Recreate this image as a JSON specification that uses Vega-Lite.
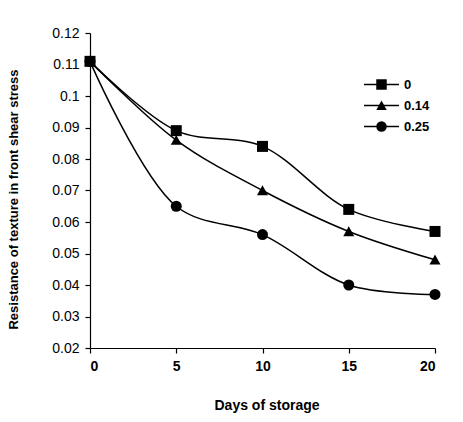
{
  "$schema": "https://vega.github.io/schema/vega-lite/v6.json",
  "autosize": {"type": "none"},
  "padding": {"left": 90, "top": 33, "right": 28, "bottom": 74},
  "width": 345,
  "height": 315,
  "background": "white",
  "config": {
    "view": {"stroke": null},
    "font": "Liberation Sans",
    "axis": {"grid": false, "domainColor": "black", "tickColor": "black", "labelColor": "black", "titleColor": "black", "tickSize": 5, "domainWidth": 1.2, "tickWidth": 1.2}
  },
  "data": {
    "values": [
      {"day": 0, "series": "0", "value": 0.111},
      {"day": 5, "series": "0", "value": 0.089},
      {"day": 10, "series": "0", "value": 0.084},
      {"day": 15, "series": "0", "value": 0.064},
      {"day": 20, "series": "0", "value": 0.057},
      {"day": 0, "series": "0.14", "value": 0.111},
      {"day": 5, "series": "0.14", "value": 0.086},
      {"day": 10, "series": "0.14", "value": 0.070},
      {"day": 15, "series": "0.14", "value": 0.057},
      {"day": 20, "series": "0.14", "value": 0.048},
      {"day": 0, "series": "0.25", "value": 0.111},
      {"day": 5, "series": "0.25", "value": 0.065},
      {"day": 10, "series": "0.25", "value": 0.056},
      {"day": 15, "series": "0.25", "value": 0.040},
      {"day": 20, "series": "0.25", "value": 0.037}
    ]
  },
  "encoding": {
    "x": {
      "field": "day", "type": "quantitative",
      "scale": {"domain": [0, 20], "nice": false, "zero": false},
      "axis": {
        "values": [0, 5, 10, 15, 20],
        "labelFontSize": 14, "labelFontWeight": "bold", "labelPadding": 6,
        "title": "Days of storage", "titleFontSize": 14, "titleFontWeight": "bold",
        "titleX": 176.5, "titleY": 57, "titleBaseline": "middle", "titlePadding": 0
      }
    },
    "y": {
      "field": "value", "type": "quantitative",
      "scale": {"domain": [0.02, 0.12], "nice": false, "zero": false},
      "axis": {
        "values": [0.02, 0.03, 0.04, 0.05, 0.06, 0.07, 0.08, 0.09, 0.1, 0.11, 0.12],
        "format": "~g",
        "labelFontSize": 14, "labelFontWeight": "normal", "labelPadding": 6,
        "title": "Resistance of texture in front shear stress",
        "titleFontSize": 13, "titleFontWeight": "bold",
        "titleX": -77, "titleY": 166, "titleAngle": -90, "titleAlign": "center", "titleBaseline": "middle"
      }
    }
  },
  "layer": [
    {
      "mark": {"type": "line", "interpolate": "catmull-rom", "strokeWidth": 1.5},
      "encoding": {
        "color": {
          "field": "series", "type": "nominal",
          "scale": {"domain": ["0", "0.14", "0.25"], "range": ["black", "black", "black"]},
          "legend": {
            "title": null, "orient": "none", "legendX": 273, "legendY": 41,
            "symbolType": "stroke", "symbolSize": 1225, "symbolStrokeWidth": 1.5, "symbolStrokeColor": "black",
            "labelFontSize": 13, "labelFontWeight": "bold", "labelColor": "black", "labelOffset": 4,
            "clipHeight": 21, "rowPadding": 0, "padding": 0
          }
        }
      }
    },
    {
      "mark": {"type": "point", "filled": true, "size": 121, "color": "black", "opacity": 1},
      "encoding": {
        "shape": {
          "field": "series", "type": "nominal",
          "scale": {"range": ["square", "M0,-0.95L1,0.85L-1,0.85Z", "circle"]},
          "legend": {
            "title": null, "orient": "none", "legendX": 285, "legendY": 41,
            "symbolSize": 110, "symbolFillColor": "black", "symbolStrokeColor": "black", "symbolOpacity": 1,
            "labelExpr": "''", "labelFontSize": 13, "labelOffset": 0,
            "clipHeight": 21, "rowPadding": 0, "padding": 0
          }
        }
      }
    }
  ]
}
